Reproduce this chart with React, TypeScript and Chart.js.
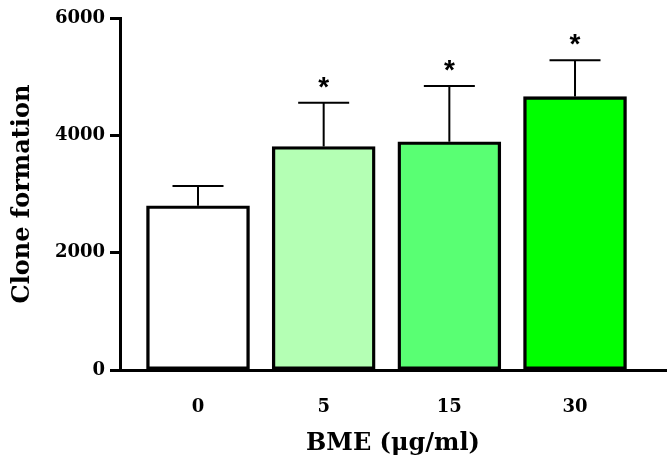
import { useEffect, useRef } from "react";
import { Chart, registerables } from "chart.js";

Chart.register(...registerables);

const categories = ["0", "5", "15", "30"];
const means = [2800, 3810, 3890, 4660];
const errors = [336, 745, 950, 620];
const significance = ["", "*", "*", "*"];
const barColors = ["#ffffff", "#b4ffb4", "#59ff73", "#00ff00"];
const yTicks = [0, 2000, 4000, 6000];
const xTitle = "BME (μg/ml)";
const yTitle = "Clone formation";

const FONT = "'DejaVu Serif', serif";

const errorPlugin = {
  id: "errorBars",
  afterDatasetsDraw(chart: any) {
    const { ctx, scales } = chart;
    const x = scales.x;
    const y = scales.y;
    ctx.save();
    means.forEach((m, i) => {
      const cx = x.getPixelForValue(i);
      const yTop = y.getPixelForValue(m);
      const yErr = y.getPixelForValue(m + errors[i]);
      ctx.strokeStyle = "#000";
      ctx.lineWidth = 2;
      ctx.beginPath();
      ctx.moveTo(cx, yTop);
      ctx.lineTo(cx, yErr);
      ctx.moveTo(cx - 25.5, yErr);
      ctx.lineTo(cx + 25.5, yErr);
      ctx.stroke();
      if (significance[i]) {
        ctx.fillStyle = "#000";
        ctx.font = "bold 28px 'Liberation Sans', sans-serif";
        ctx.textAlign = "center";
        ctx.textBaseline = "alphabetic";
        ctx.fillText(significance[i], cx, yErr - 7);
      }
    });
    ctx.restore();
  },
};

export default function App() {
  const ref = useRef<HTMLCanvasElement | null>(null);
  useEffect(() => {
    if (!ref.current) return;
    const chart = new Chart(ref.current, {
      type: "bar",
      data: {
        datasets: [
          {
            data: means.map((m, i) => ({ x: i, y: m })),
            backgroundColor: barColors,
            borderColor: "#000",
            borderWidth: 3.4,
            borderSkipped: false,
            barThickness: 103,
          },
        ],
      },
      options: {
        responsive: false,
        animation: false,
        layout: { autoPadding: false, padding: { top: 18, right: 2, left: 0, bottom: 0 } },
        plugins: { legend: { display: false }, tooltip: { enabled: false } },
        scales: {
          x: {
            type: "linear",
            offset: false,
            min: -0.6207,
            max: 3.724,
            afterBuildTicks: (s: any) => {
              s.ticks = categories.map((_, i) => ({ value: i }));
            },
            afterFit: (s: any) => {
              s.height = 96;
            },
            grid: { display: false },
            border: { display: true, color: "#000", width: 3 },
            ticks: {
              color: "#000",
              font: { family: FONT, weight: "bold", size: 18 },
              padding: 19,
              callback: (v: any) => categories[v] ?? "",
              maxRotation: 0,
            },
            title: {
              display: true,
              text: xTitle,
              color: "#000",
              font: { family: FONT, weight: "bold", size: 24, lineHeight: 1 },
              padding: { top: 0, bottom: 10 },
            },
          },
          y: {
            min: 0,
            max: 6000,
            afterBuildTicks: (s: any) => {
              s.ticks = yTicks.map((v) => ({ value: v }));
            },
            afterFit: (s: any) => {
              s.width = 120;
            },
            grid: {
              drawOnChartArea: false,
              drawTicks: true,
              tickLength: 10,
              tickWidth: 3,
              tickColor: "#000",
            },
            border: { display: true, color: "#000", width: 3 },
            ticks: {
              color: "#000",
              font: { family: FONT, weight: "bold", size: 18 },
              padding: 5,
              callback: (v: any) => String(v),
            },
            title: {
              display: true,
              text: yTitle,
              color: "#000",
              font: { family: FONT, weight: "bold", size: 24, lineHeight: 1 },
              padding: { top: 11, bottom: 0 },
            },
          },
        },
      },
      plugins: [errorPlugin],
    });
    return () => chart.destroy();
  }, []);
  return (
    <div style={{ position: "fixed", left: 0, top: 0, width: 668, height: 466, background: "#fff" }}>
      <canvas ref={ref} width={668} height={466} />
    </div>
  );
}
